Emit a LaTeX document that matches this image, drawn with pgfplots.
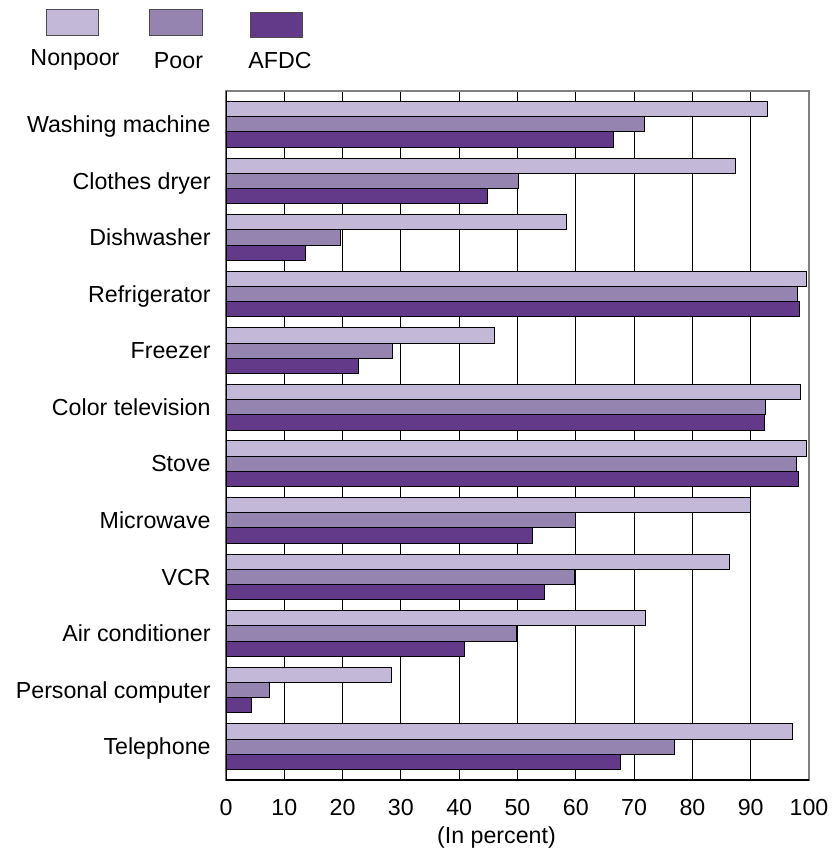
\documentclass[border=0pt]{standalone}
\usepackage{fontspec}
\setmainfont{Liberation Sans}
\usepackage{pgfplots}
\usepackage{pgfplotstable}
\pgfplotsset{compat=1.18}

\definecolor{nonpoor}{HTML}{C4B8D8}
\definecolor{poor}{HTML}{9584AF}
\definecolor{afdc}{HTML}{63398A}

% idx: row from the top; values in percent
\pgfplotstableread{
idx nonpoor poor afdc
0   92.8    71.7 66.4
1   87.4    50.2 44.9
2   58.4    19.6 13.7
3   99.5    98.0 98.4
4   46.1    28.6 22.7
5   98.6    92.5 92.3
6   99.5    97.8 98.2
7   89.9    59.9 52.6
8   86.3    59.8 54.7
9   72.0    49.8 40.9
10  28.4    7.5  4.3
11  97.2    76.9 67.6
}\appliances

\begin{document}
\begin{tikzpicture}[font=\fontsize{11.6}{14}\selectfont]
\useasboundingbox (-113pt,-35.5pt) rectangle (302.5pt,390pt);
\begin{axis}[
    scale only axis,
    width=291.5pt, height=344.5pt,
    xbar, bar width=0.269,
    xmin=0, xmax=100,
    ymin=-0.59, ymax=11.59,
    y dir=reverse,
    xtick={0,10,...,100},
    ytick={0,...,11},
    yticklabels={Washing machine, Clothes dryer, Dishwasher, Refrigerator,
      Freezer, Color television, Stove, Microwave, VCR, Air conditioner,
      Personal computer, Telephone},
    major tick length=0pt,
    /pgf/number format/assume math mode=true,
    xticklabel style={anchor=base, yshift=-17.5pt},
    yticklabel style={anchor=base east, inner sep=0pt, xshift=-7.5pt, yshift=-4.1pt},
    xlabel={(In percent)},
    xlabel style={at={(axis description cs:0.5,0)}, anchor=base,
      yshift=-31.5pt, xshift=-10.5pt},
    xmajorgrids,
    grid style={black, line width=0.5pt},
    axis line style={draw=gray, line width=0.8pt},
  ]
  \addplot[draw=black, line width=0.5pt, fill=nonpoor, bar shift=-0.269]
    table[x=nonpoor, y=idx] {\appliances};
  \addplot[draw=black, line width=0.5pt, fill=poor, bar shift=0]
    table[x=poor, y=idx] {\appliances};
  \addplot[draw=black, line width=0.5pt, fill=afdc, bar shift=0.269]
    table[x=afdc, y=idx] {\appliances};
  \draw[black, line width=0.8pt] (rel axis cs:0,1) -- (rel axis cs:0,0) -- (rel axis cs:1,0);
\end{axis}

% legend: swatches above their names
\filldraw[fill=nonpoor, draw=black!70, line width=0.5pt] (-89.65pt,372.35pt) rectangle (-63.65pt,385.35pt);
\filldraw[fill=poor, draw=black!70, line width=0.5pt] (-38pt,372.35pt) rectangle (-12pt,385.35pt);
\filldraw[fill=afdc, draw=black!70, line width=0.5pt] (12pt,371pt) rectangle (38.15pt,383.85pt);
\node[anchor=base, inner sep=0pt] at (-75.5pt,357pt) {Nonpoor};
\node[anchor=base, inner sep=0pt] at (-23.75pt,355.5pt) {Poor};
\node[anchor=base, inner sep=0pt] at (27pt,355.5pt) {AFDC};
\end{tikzpicture}
\end{document}
